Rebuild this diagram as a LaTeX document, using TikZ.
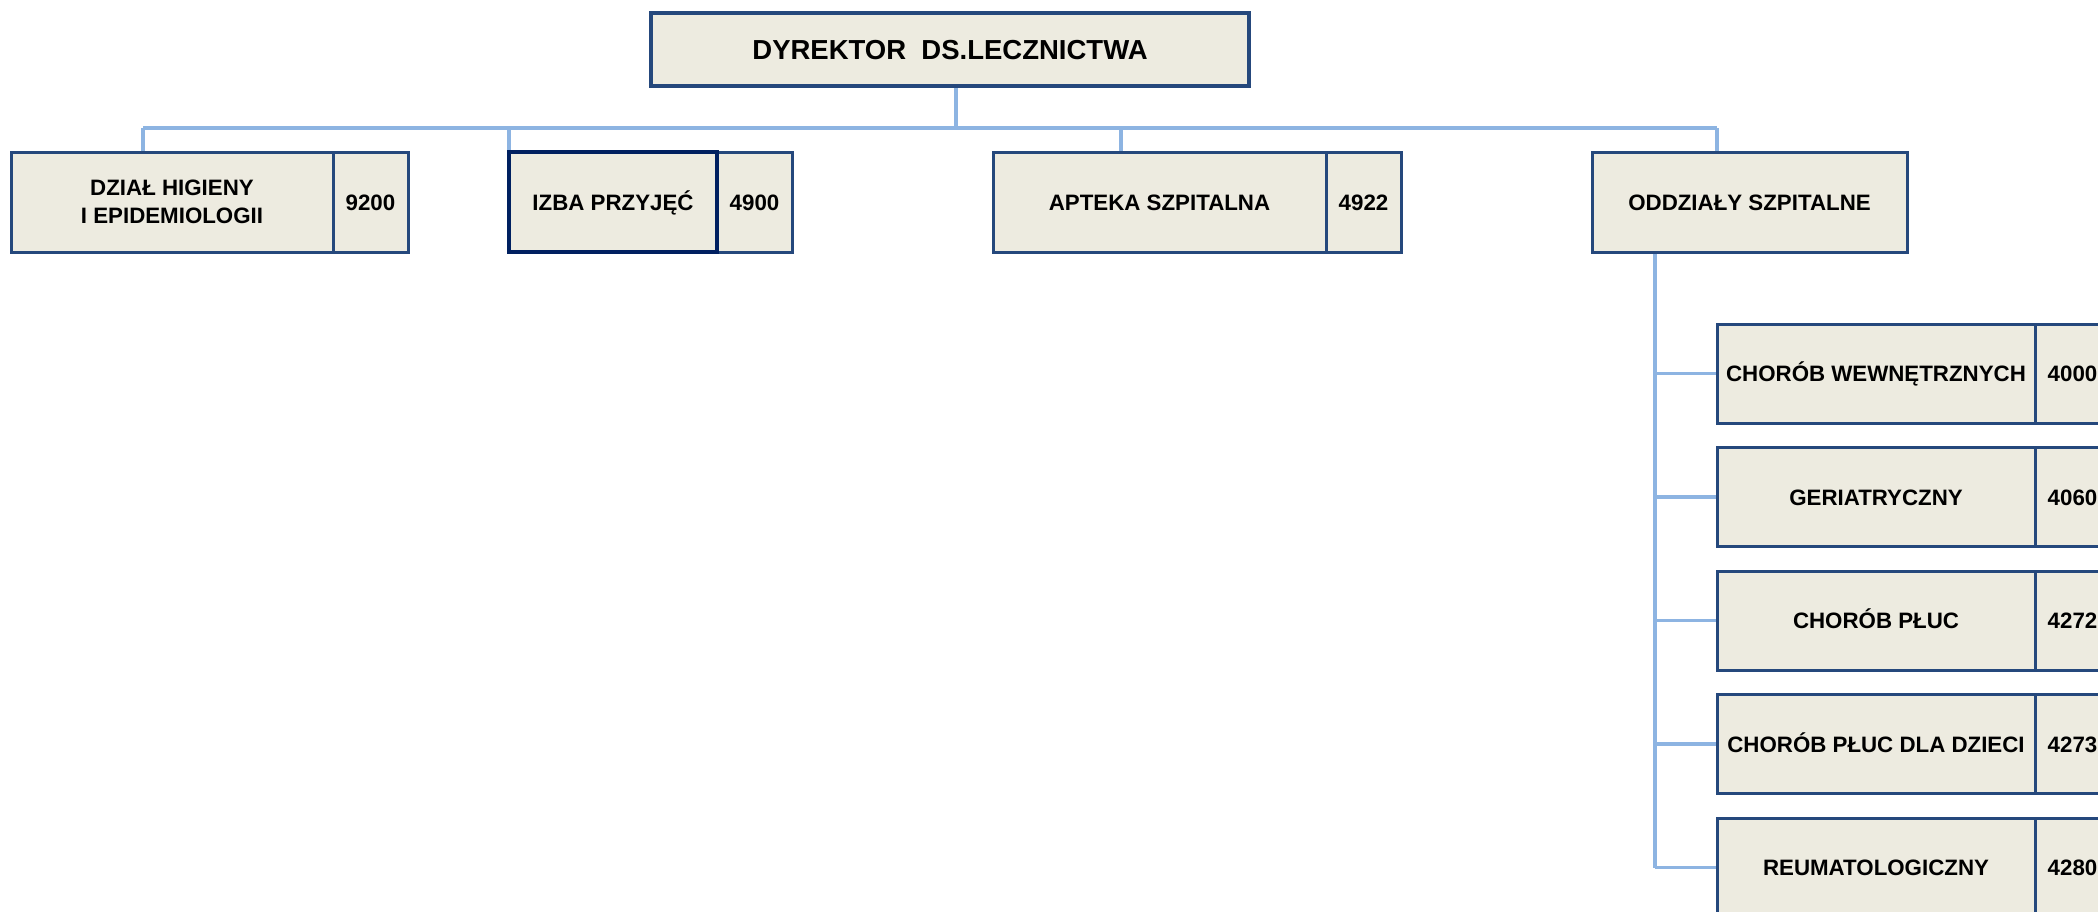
\documentclass[tikz,border=0pt]{standalone}
\usepackage{fontspec}
\setmainfont{Liberation Sans}
\usetikzlibrary{backgrounds}
\definecolor{boxfill}{RGB}{237,235,224}
\definecolor{boxline}{RGB}{37,72,124}
\definecolor{navyline}{RGB}{0,32,96}
\definecolor{connline}{RGB}{141,180,226}
\tikzset{
  orgbox/.style={draw=boxline, fill=boxfill, line width=3pt, anchor=north west,
    outer sep=0pt, inner sep=0pt, align=center,
    font=\bfseries\fontsize{22.3}{28}\selectfont},
  oneline/.style={text height=16pt, text depth=0pt},
  conn/.style={draw=connline, line width=3.5pt},
}
\begin{document}
\begin{tikzpicture}[x=1pt,y=-1pt]
\useasboundingbox (0,0) rectangle (2098,911);
\clip (0,0) rectangle (2098,911);

% top
\node[orgbox, minimum width=598, minimum height=73, line width=3.5pt,
  text height=19.7pt, text depth=0pt,
  font=\bfseries\fontsize{27.5}{33}\selectfont] (dyr) at (651,13) {DYREKTOR\ \ DS.LECZNICTWA};

% level 2
\node[orgbox, minimum width=322, minimum height=100] (dzial) at (11,152) {DZIAŁ HIGIENY\\I EPIDEMIOLOGII};
\node[orgbox, oneline, minimum width=75, minimum height=100] (dzialn) at (dzial.north east) {9200};

\node[orgbox, oneline, minimum width=75, minimum height=100] (izban) at (717,152) {4900};
\node[orgbox, oneline, draw=navyline, line width=4pt, minimum width=208, minimum height=100] (izba) at (509,152) {IZBA PRZYJĘĆ};

\node[orgbox, oneline, minimum width=333, minimum height=100] (apteka) at (993,152) {APTEKA SZPITALNA};
\node[orgbox, oneline, minimum width=75, minimum height=100] (aptekan) at (apteka.north east) {4922};

\node[orgbox, oneline, minimum width=315, minimum height=100] (oddz) at (1592,152) {ODDZIAŁY SZPITALNE};

% children
\node[orgbox, oneline, minimum width=318, minimum height=99] (c1) at (1717,324) {CHORÓB WEWNĘTRZNYCH};
\node[orgbox, oneline, minimum width=75, minimum height=99] (n1) at (c1.north east) {4000};
\node[orgbox, oneline, minimum width=318, minimum height=99] (c2) at (1717,447.5) {GERIATRYCZNY};
\node[orgbox, oneline, minimum width=75, minimum height=99] (n2) at (c2.north east) {4060};
\node[orgbox, oneline, minimum width=318, minimum height=99] (c3) at (1717,571) {CHORÓB PŁUC};
\node[orgbox, oneline, minimum width=75, minimum height=99] (n3) at (c3.north east) {4272};
\node[orgbox, oneline, minimum width=318, minimum height=99] (c4) at (1717,694.5) {CHORÓB PŁUC DLA DZIECI};
\node[orgbox, oneline, minimum width=75, minimum height=99] (n4) at (c4.north east) {4273};
\node[orgbox, oneline, minimum width=318, minimum height=99] (c5) at (1717,818) {REUMATOLOGICZNY};
\node[orgbox, oneline, minimum width=75, minimum height=99] (n5) at (c5.north east) {4280};

% connector points
\coordinate (btop) at (956,128);
\coordinate (b1) at (143,128);
\coordinate (b2) at (509,128);
\coordinate (b3) at (1121,128);
\coordinate (b4) at (1717,128);
\coordinate (vtop) at (1655,252);

\begin{pgfonlayer}{background}
  \draw[conn] (btop |- dyr.south) -- (btop);
  \draw[conn] (b1) -- (b4);
  \draw[conn] (b1) -- (b1 |- dzial.north);
  \draw[conn] (b2) -- (b2 |- izba.north);
  \draw[conn] (b3) -- (b3 |- apteka.north);
  \draw[conn] (b4) -- (b4 |- oddz.north);
  \draw[conn] (vtop) -- (vtop |- c5.west);
  \foreach \c in {c1,c2,c3,c4,c5}
    \draw[conn] (vtop |- \c.west) -- (\c.west);
\end{pgfonlayer}
\end{tikzpicture}
\end{document}
